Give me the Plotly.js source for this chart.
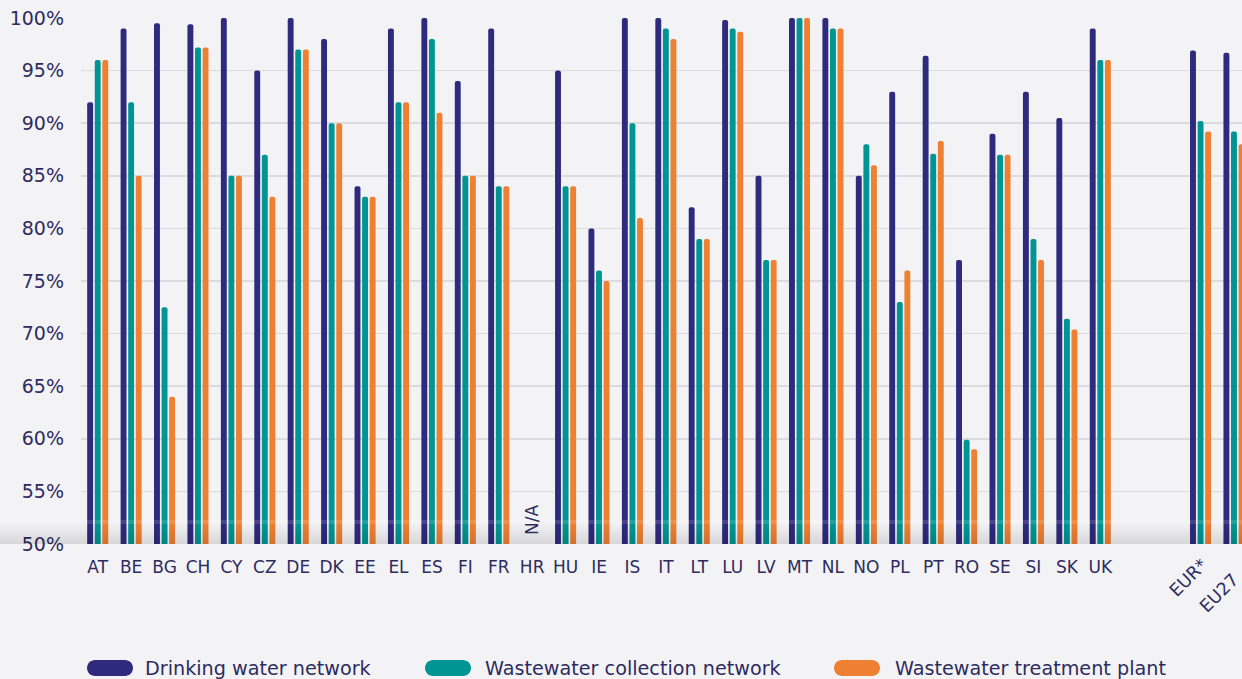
<!DOCTYPE html>
<html>
<head>
<meta charset="utf-8">
<script src="https://cdn.plot.ly/plotly-3.0.1.min.js"></script>
<style>
  html, body { margin: 0; padding: 0; background: #f3f3f6; overflow: hidden; }
  #chart { width: 1242px; height: 679px; }
</style>
</head>
<body>
<div id="chart"></div>
<script>
// ---- data ----
const countries = ['AT','BE','BG','CH','CY','CZ','DE','DK','EE','EL','ES','FI','FR','HR','HU','IE','IS','IT','LT','LU','LV','MT','NL','NO','PL','PT','RO','SE','SI','SK','UK'];
const aggregates = ['EUR*','EU27'];
const seriesNames = ['Drinking water network','Wastewater collection network','Wastewater treatment plant'];
const drinking   = [92,99,99.5,99.4,100,95,100,98,84,99,100,94,99,null,95,80,100,100,82,99.8,85,100,100,85,93,96.4,77,89,93,90.5,99, 96.9,96.7];
const collection = [96,92,72.5,97.2,85,87,97,90,83,92,98,85,84,null,84,76,90,99,79,99,77,100,99,88,73,87.1,59.9,87,79,71.4,96, 90.2,89.2];
const treatment  = [96,85,64,97.2,85,83,97,90,83,92,91,85,84,null,84,75,81,98,79,98.7,77,100,99,86,76,88.3,59,87,77,70.4,96, 89.2,88];
const missingLabel = 'N/A';
const missingCountry = 'HR';

// ---- styling ----
const colors = ['#2e2a7e', '#009592', '#ee8034'];
const textColor = '#2e2b5e';
const bg = '#f3f3f6';
const FONT = 'DejaVu Sans, Verdana, sans-serif';

// positions: countries in sequence, a gap of two slots, then aggregates
const allCats = countries.concat(aggregates);
const positions = allCats.map((c, i) => i < countries.length ? i : i + 2);
const countryPos = positions.slice(0, countries.length);

const traces = [drinking, collection, treatment].map((vals, k) => ({
  type: 'bar',
  name: seriesNames[k],
  x: positions,
  y: vals,
  marker: { color: colors[k], cornerradius: '50%', line: { width: 0 } },
  showlegend: false,
  hoverinfo: 'skip'
}));

// plot geometry (pixels)
const L = 81, T = 18, W = 1161, H = 526;
const px2x = px => (px - L) / W;
const px2y = py => (T + H - py) / H;

const shapes = [];
// bottom shadow band
shapes.push({ type: 'rect', xref: 'paper', yref: 'paper', x0: px2x(0), x1: px2x(1242),
  y0: px2y(524), y1: px2y(520), fillcolor: 'rgba(255,255,255,0.12)', line: { width: 0 }, layer: 'above' });
for (let i = 0; i < 10; i++) {
  const y0 = 524 + i * 2, y1 = y0 + 2;
  shapes.push({ type: 'rect', xref: 'paper', yref: 'paper', x0: px2x(0), x1: px2x(1242),
    y0: px2y(y1), y1: px2y(y0), fillcolor: 'rgba(0,0,0,' + (0.011 * (i + 1)).toFixed(3) + ')',
    line: { width: 0 }, layer: 'above' });
}

// legend pills
const legendPill = [87, 425, 834];
const legendText = [143, 483, 893];
const legendY = 668;
const pill = 'M 8,-8 L 38,-8 C 42.4,-8 46,-4.4 46,0 C 46,4.4 42.4,8 38,8 L 8,8 C 3.6,8 0,4.4 0,0 C 0,-4.4 3.6,-8 8,-8 Z';
const annotations = [];
seriesNames.forEach((n, k) => {
  shapes.push({ type: 'path', xref: 'paper', yref: 'paper', xsizemode: 'pixel', ysizemode: 'pixel',
    xanchor: px2x(legendPill[k]), yanchor: px2y(legendY), path: pill,
    fillcolor: colors[k], line: { width: 0 } });
  annotations.push({ xref: 'paper', yref: 'paper', x: px2x(legendText[k]), y: px2y(legendY),
    xanchor: 'left', yanchor: 'middle', text: n, showarrow: false,
    font: { family: FONT, size: 19.2, color: textColor } });
});

// N/A label
annotations.push({ x: positions[countries.indexOf(missingCountry)], y: 52.3, xref: 'x', yref: 'y',
  text: missingLabel, textangle: -90, showarrow: false, xanchor: 'center', yanchor: 'middle',
  font: { family: FONT, size: 17, color: textColor } });

// aggregate labels (angled)
const aggCenters = [[1188, 578], [1219, 593]];
aggregates.forEach((a, i) => {
  annotations.push({ xref: 'paper', yref: 'paper', x: px2x(aggCenters[i][0]), y: px2y(aggCenters[i][1]),
    text: a, textangle: -45, showarrow: false, xanchor: 'center', yanchor: 'middle',
    font: { family: FONT, size: 17.5, color: textColor } });
});

const layout = {
  width: 1242, height: 679,
  paper_bgcolor: bg, plot_bgcolor: bg,
  margin: { l: L, r: 1242 - L - W, t: T, b: 679 - T - H, pad: 0 },
  barmode: 'group', bargap: 0.32, bargroupgap: 0.22,
  font: { family: FONT, color: textColor },
  xaxis: {
    type: 'linear', range: [-0.5, 34.24], tickvals: countryPos, ticktext: countries,
    showgrid: false, zeroline: false, showline: false, ticks: '',
    tickfont: { family: FONT, size: 17, color: textColor }, ticklabelstandoff: 11, fixedrange: true
  },
  yaxis: {
    range: [50, 100], dtick: 5, tick0: 50, ticksuffix: '%',
    showgrid: true, gridcolor: '#dcdce0', gridwidth: 1.5, zeroline: false, showline: false, ticks: '',
    tickfont: { family: FONT, size: 19, color: textColor }, ticklabelstandoff: 16, fixedrange: true
  },
  shapes: shapes,
  annotations: annotations,
  showlegend: false
};

Plotly.newPlot('chart', traces, layout, { displayModeBar: false, staticPlot: true });
</script>
</body>
</html>
